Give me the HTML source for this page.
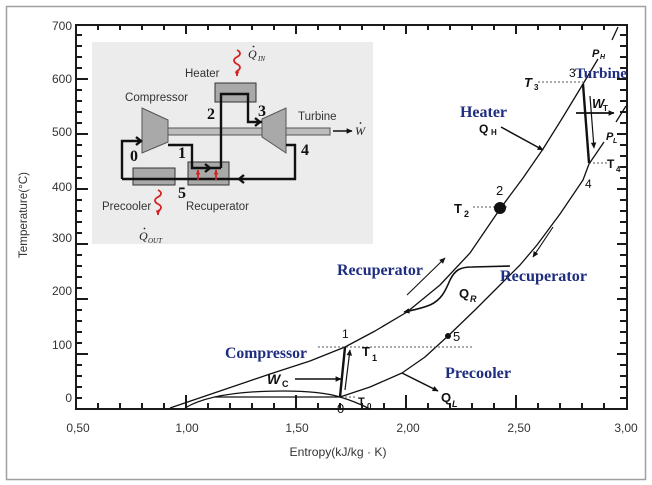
<!DOCTYPE html>
<html><head><meta charset="utf-8"><style>
html,body{margin:0;padding:0;background:#fff;}
svg{display:block;}
</style></head><body>
<svg width="652" height="485" viewBox="0 0 652 485" xmlns="http://www.w3.org/2000/svg">
<defs>
<marker id="ah" viewBox="0 0 10 10" refX="9" refY="5" markerWidth="7" markerHeight="6" orient="auto" markerUnits="userSpaceOnUse"><path d="M0,0.5 L10,5 L0,9.5 z" fill="#111"/></marker>
<marker id="ahr" viewBox="0 0 10 10" refX="9" refY="5" markerWidth="5" markerHeight="5" orient="auto" markerUnits="userSpaceOnUse"><path d="M0,0.5 L10,5 L0,9.5 z" fill="#d42222"/></marker>
</defs>
<rect x="0" y="0" width="652" height="485" fill="#fff"/>
<rect x="6.5" y="6.5" width="639" height="473" fill="none" stroke="#a0a0a0" stroke-width="1.5"/>

<!-- plot frame -->
<rect x="76" y="25" width="551" height="384" fill="none" stroke="#1a1a1a" stroke-width="2"/>
<path fill="none" stroke="#1a1a1a" stroke-width="2" d="M76,398h6M76,387h6M76,376h6M76,365h6M76,354h12M76,343h6M76,332h6M76,321h6M76,310h6M76,299h12M76,288h6M76,277h6M76,266h6M76,255h6M76,244h12M76,233h6M76,222h6M76,211h6M76,200h6M76,189h12M76,178h6M76,167h6M76,156h6M76,145h6M76,134h12M76,123h6M76,112h6M76,101h6M76,90h6M76,79h12M76,68h6M76,57h6M76,46h6M76,35h6"/>
<path fill="none" stroke="#1a1a1a" stroke-width="2" d="M627,398h-7M627,387h-7M627,376h-7M627,365h-7M627,354h-10M627,343h-7M627,332h-7M627,321h-7M627,310h-7M627,299h-10M627,288h-7M627,277h-7M627,266h-7M627,255h-7M627,244h-10M627,233h-7M627,222h-7M627,211h-7M627,200h-7M627,189h-10M627,178h-7M627,167h-7M627,156h-7M627,145h-7M627,134h-10M627,123h-7M627,112h-7M627,101h-7M627,90h-7M627,79h-10M627,68h-7M627,57h-7M627,46h-7M627,35h-7"/>
<path fill="none" stroke="#1a1a1a" stroke-width="2" d="M98,409v-6M120,409v-6M142,409v-6M164,409v-6M186,409v-14M208,409v-6M230,409v-6M252,409v-6M274,409v-6M296,409v-14M318,409v-6M340,409v-6M362,409v-6M384,409v-6M406,409v-14M428,409v-6M450,409v-6M472,409v-6M494,409v-6M516,409v-14M538,409v-6M560,409v-6M582,409v-6M604,409v-6"/>
<path fill="none" stroke="#1a1a1a" stroke-width="2" d="M98,25v5M120,25v5M142,25v5M164,25v5M186,25v9M208,25v5M230,25v5M252,25v5M274,25v5M296,25v9M318,25v5M340,25v5M362,25v5M384,25v5M406,25v9M428,25v5M450,25v5M472,25v5M494,25v5M516,25v9M538,25v5M560,25v5M582,25v5M604,25v5"/>

<!-- axis labels -->
<g font-family="Liberation Sans, sans-serif" font-size="12" fill="#333" text-anchor="end">
<text x="72" y="30">700</text><text x="72" y="83">600</text><text x="72" y="136">500</text><text x="72" y="191">400</text><text x="72" y="242">300</text><text x="72" y="295">200</text><text x="72" y="349">100</text><text x="72" y="402">0</text>
</g>
<g font-family="Liberation Sans, sans-serif" font-size="12" fill="#333" text-anchor="middle">
<text x="78" y="432">0,50</text><text x="187" y="432">1,00</text><text x="297" y="432">1,50</text><text x="408" y="432">2,00</text><text x="519" y="432">2,50</text><text x="626" y="432">3,00</text>
<text x="338" y="456" textLength="97" lengthAdjust="spacingAndGlyphs">Entropy(kJ/kg · K)</text>
<text transform="translate(27,215) rotate(-90)" textLength="86" lengthAdjust="spacingAndGlyphs">Temperature(°C)</text>
</g>

<!-- curves -->
<g fill="none" stroke="#111" stroke-width="1.3" stroke-linejoin="round">
<polyline points="170,408 220,391 270,374 310,361 345,347 375,331 407,312 440,285 470,253 485,231 500,209 523,178 543,149 563,117 583,84 598,59"/>
<polyline points="612,40 618,27"/>
<polyline points="340,397 370,387 402,373 425,357 448,336 475,310 500,285 520,265 537,245 560,214 583,180 589,164 604,142"/>
<polyline points="616,122 626,106"/>
<path d="M185,408 C205,396 240,391 283,391 C310,391 327,393 340,397 C350,400 360,404 368,408"/>
<path d="M215,397 H340"/>
</g>
<!-- dotted lines -->
<g fill="none" stroke="#555" stroke-width="1" stroke-dasharray="2,2">
<path d="M318,347 H473"/>
<path d="M345,397 H357"/>
<path d="M473,207 H508"/>
<path d="M538,82 H583"/>
<path d="M589,163 H607"/>
</g>
<!-- process lines -->
<g fill="none" stroke="#111">
<path d="M340,397 L345,347" stroke-width="2.4"/>
<path d="M345,390 L350,350" stroke-width="1.2" marker-end="url(#ah)"/>
<path d="M295,379 L341,379" stroke-width="1.5" marker-end="url(#ah)"/>
<path d="M583,84 L589,163" stroke-width="2.4"/>
<path d="M590,96 L594,148" stroke-width="1.2" marker-end="url(#ah)"/>
<path d="M576,113 L614,113" stroke-width="1.8" marker-end="url(#ah)"/>
<path d="M501,127 L543,150" stroke-width="1.5" marker-end="url(#ah)"/>
<path d="M407,295 L445,258" stroke-width="1.1" marker-end="url(#ah)"/>
<path d="M553,227 L533,257" stroke-width="1.1" marker-end="url(#ah)"/>
<path d="M510,266 L472,267 C460,267 455,270 450,280 C445,292 441,300 430,305 C420,309 413,310 404,312" stroke-width="1.6" marker-end="url(#ah)"/>
<path d="M402,373 L438,391" stroke-width="1.5" marker-end="url(#ah)"/>
</g>
<circle cx="500" cy="208" r="6" fill="#111"/>
<circle cx="448" cy="336" r="3" fill="#111"/>

<!-- plot labels -->
<g font-family="Liberation Sans, sans-serif" fill="#111">
<text x="342" y="338" font-size="12">1</text>
<text x="337" y="413" font-size="13">0</text>
<text x="362" y="356" font-size="13" font-weight="bold">T</text><text x="372" y="361" font-size="9" font-weight="bold">1</text>
<text x="358" y="405" font-size="11" font-weight="bold">T</text><text x="367" y="409" font-size="8" font-weight="bold">0</text>
<text x="267" y="384" font-size="14" font-weight="bold" font-style="italic">W</text><text x="282" y="387" font-size="9" font-weight="bold">C</text>
<text x="453" y="341" font-size="13">5</text>
<text x="441" y="402" font-size="13" font-weight="bold">Q</text><text x="452" y="407" font-size="9" font-weight="bold" font-style="italic">L</text>
<text x="459" y="298" font-size="13" font-weight="bold">Q</text><text x="470" y="302" font-size="9" font-weight="bold" font-style="italic">R</text>
<text x="496" y="195" font-size="13">2</text>
<text x="454" y="213" font-size="13" font-weight="bold">T</text><text x="464" y="217" font-size="9" font-weight="bold">2</text>
<text x="479" y="133" font-size="12" font-weight="bold">Q</text><text x="491" y="135" font-size="8" font-weight="bold">H</text>
<text x="569" y="77" font-size="12">3</text>
<text x="524" y="87" font-size="13" font-weight="bold" font-style="italic">T</text><text x="534" y="90" font-size="8" font-weight="bold">3</text>
<text x="592" y="108" font-size="13" font-weight="bold" font-style="italic">W</text><text x="603" y="111" font-size="8" font-weight="bold">T</text>
<text x="592" y="57" font-size="11" font-weight="bold" font-style="italic">P</text><text x="600" y="59" font-size="7" font-weight="bold" font-style="italic">H</text>
<text x="606" y="140" font-size="11" font-weight="bold" font-style="italic">P</text><text x="613" y="143" font-size="7" font-weight="bold" font-style="italic">L</text>
<text x="607" y="168" font-size="12" font-weight="bold">T</text><text x="616" y="172" font-size="8" font-weight="bold">4</text>
<text x="585" y="188" font-size="12">4</text>
</g>

<!-- blue labels -->
<g font-family="Liberation Serif, serif" font-weight="bold" font-size="16" fill="#1e2d7f">
<text x="225" y="358" textLength="82" lengthAdjust="spacingAndGlyphs">Compressor</text>
<text x="337" y="275" textLength="86" lengthAdjust="spacingAndGlyphs">Recuperator</text>
<text x="500" y="281" textLength="87" lengthAdjust="spacingAndGlyphs">Recuperator</text>
<text x="445" y="378" textLength="66" lengthAdjust="spacingAndGlyphs">Precooler</text>
<text x="460" y="117" textLength="47" lengthAdjust="spacingAndGlyphs">Heater</text>
<text x="575" y="78" font-size="15" textLength="52" lengthAdjust="spacingAndGlyphs">Turbine</text>
</g>

<!-- inset -->
<rect x="92" y="42" width="281" height="202" fill="#ececec"/>
<g stroke="#555" stroke-width="1">
<rect x="168" y="128" width="162" height="7" fill="#bdbdbd"/>
<polygon points="142,108 168,120 168,142 142,153" fill="#a9a9a9"/>
<polygon points="262,119 286,108 286,153 262,137" fill="#a9a9a9"/>
<rect x="215" y="83" width="41" height="19" fill="#a9a9a9" stroke="#333"/>
<rect x="188" y="162" width="41" height="23" fill="#a9a9a9" stroke="#333"/>
<rect x="133" y="168" width="42" height="17" fill="#a9a9a9" stroke="#333"/>
</g>
<g fill="none" stroke="#111" stroke-width="2.4" stroke-linejoin="miter">
<path d="M122,179 L122,141 L142,141"/>
<path d="M168,145 L192,145 L192,168 L221,168"/>
<path d="M221,168 L221,94 L248,94 L248,122 L262,122"/>
<path d="M286,145 L295,145 L295,179 L122,179"/>
<polyline points="136,137 141,141 136,145"/>
<polyline points="205,164 210,168 205,172"/>
<polyline points="255,118 260,122 255,126"/>
<polyline points="244,175 239,179 244,183"/>
</g>
<g stroke="#d42222" stroke-width="1.8" fill="none">
<path d="M198,180 L198,170" marker-end="url(#ahr)"/>
<path d="M216,180 L216,170" marker-end="url(#ahr)"/>
<path d="M237,50 c4,2 4,5 0,7 c-4,2 -4,5 0,7 c4,2 4,5 0,7 l0,5" marker-end="url(#ahr)"/>
<path d="M158,190 c4,2 4,5 0,7 c-4,2 -4,5 0,7 c4,2 4,5 0,7 l0,4" marker-end="url(#ahr)"/>
</g>
<path d="M333,131 L352,131" stroke="#111" stroke-width="1.5" marker-end="url(#ah)"/>
<g font-family="Liberation Sans, sans-serif" font-size="11.5" fill="#333">
<text x="185" y="77">Heater</text>
<text x="125" y="101" textLength="63" lengthAdjust="spacingAndGlyphs">Compressor</text>
<text x="298" y="120">Turbine</text>
<text x="102" y="210">Precooler</text>
<text x="186" y="210" textLength="63" lengthAdjust="spacingAndGlyphs">Recuperator</text>
</g>
<g font-family="Liberation Serif, serif" font-weight="bold" font-size="16" fill="#111">
<text x="207" y="119">2</text>
<text x="258" y="116">3</text>
<text x="301" y="155">4</text>
<text x="130" y="161">0</text>
<text x="178" y="158">1</text>
<text x="178" y="198">5</text>
</g>
<g font-family="Liberation Serif, serif" font-style="italic" fill="#222">
<text x="248" y="58" font-size="12">Q</text><circle cx="253.5" cy="46.5" r="0.9" fill="#222"/>
<text x="258" y="61" font-size="7">IN</text>
<text x="139" y="240" font-size="12">Q</text><circle cx="144.5" cy="228.5" r="0.9" fill="#222"/>
<text x="148" y="243" font-size="7">OUT</text>
<text x="355" y="135" font-size="12">W</text><circle cx="360.5" cy="123" r="0.9" fill="#222"/>
</g>
</svg>
</body></html>
